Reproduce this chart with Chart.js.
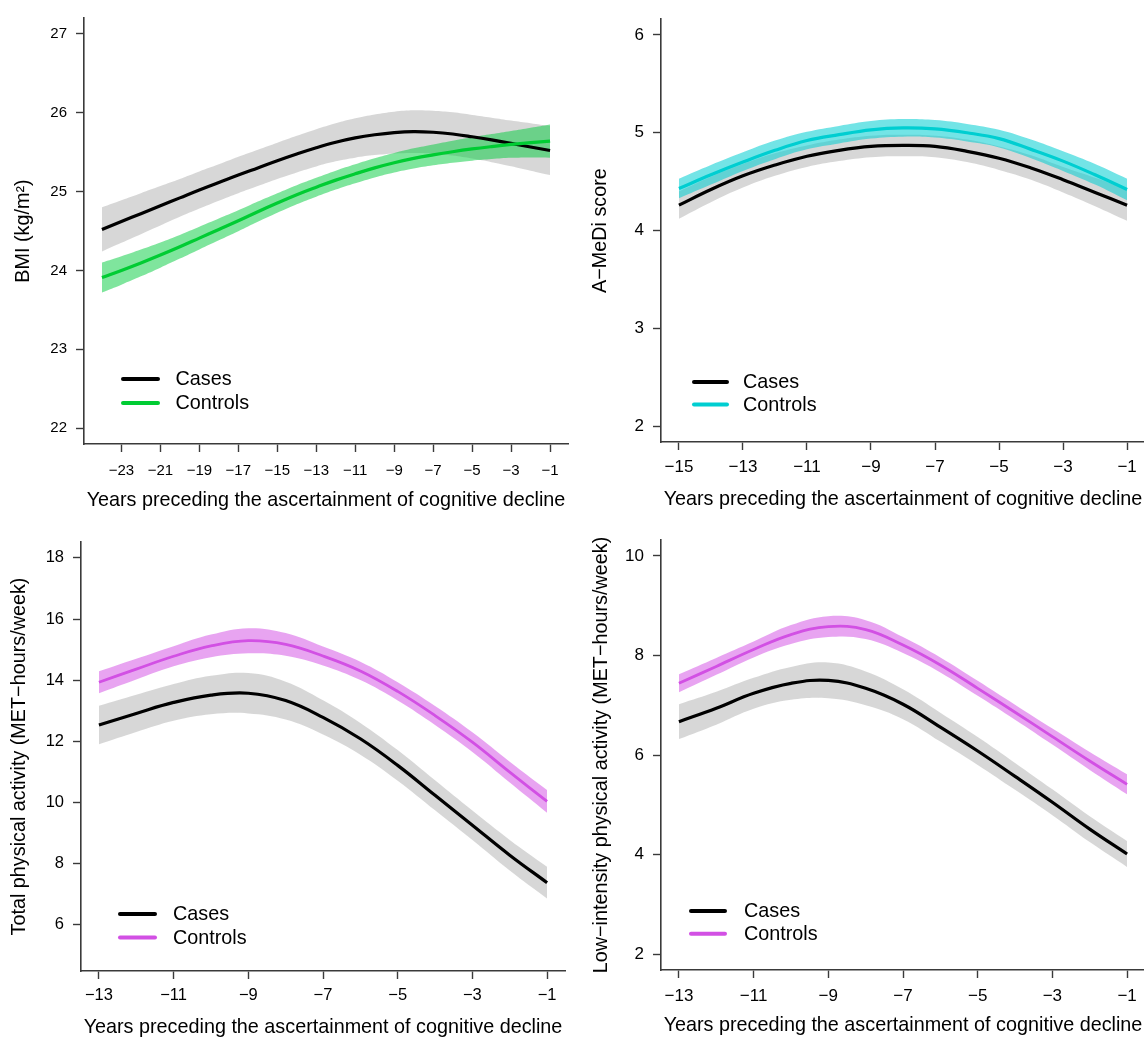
<!DOCTYPE html>
<html><head><meta charset="utf-8">
<script src="https://cdn.jsdelivr.net/npm/chart.js@4/dist/chart.umd.min.js"></script>
<style>
html,body{margin:0;padding:0;background:#fff;overflow:hidden;width:1144px;height:1039px;}
.panel{position:absolute;}
canvas{display:block;}
</style></head><body>
<div class="panel" style="left:0;top:0"><canvas id="c1" width="572" height="520"></canvas></div>
<div class="panel" style="left:572px;top:0"><canvas id="c2" width="580" height="520"></canvas></div>
<div class="panel" style="left:0;top:520px"><canvas id="c3" width="572" height="519"></canvas></div>
<div class="panel" style="left:572px;top:520px"><canvas id="c4" width="580" height="519"></canvas></div>
<script>
// ---------- DATA ----------
const legendLabels = ['Cases', 'Controls'];
const xTitle = 'Years preceding the ascertainment of cognitive decline';

// Panel 1: BMI
const bmiYears = [-24,-23,-22,-21,-20,-19,-18,-17,-16,-15,-14,-13,-12,-11,-10,-9,-8,-7,-6,-5,-4,-3,-2,-1];
const bmiCases = [24.52,24.62,24.72,24.82,24.92,25.02,25.115,25.21,25.30,25.39,25.475,25.555,25.625,25.68,25.72,25.748,25.76,25.752,25.73,25.695,25.655,25.61,25.565,25.52];
const bmiCasesUpper = [24.80,24.89,24.98,25.07,25.16,25.255,25.345,25.44,25.53,25.62,25.707,25.791,25.867,25.93,25.978,26.013,26.03,26.024,26.004,25.972,25.937,25.90,25.865,25.83];
const bmiCasesLower = [24.24,24.35,24.46,24.57,24.68,24.785,24.885,24.98,25.07,25.16,25.243,25.319,25.383,25.43,25.462,25.483,25.49,25.48,25.456,25.418,25.373,25.32,25.265,25.21];
const bmiControls = [23.91,24.00,24.095,24.195,24.30,24.41,24.52,24.63,24.745,24.855,24.96,25.055,25.145,25.225,25.30,25.365,25.42,25.465,25.505,25.54,25.57,25.597,25.62,25.64];
const bmiControlsUpper = [24.10,24.18,24.265,24.355,24.45,24.553,24.657,24.762,24.873,24.979,25.081,25.175,25.265,25.345,25.421,25.489,25.548,25.598,25.645,25.688,25.728,25.767,25.808,25.85];
const bmiControlsLower = [23.72,23.82,23.925,24.035,24.15,24.267,24.383,24.498,24.617,24.731,24.839,24.935,25.025,25.105,25.179,25.241,25.292,25.332,25.365,25.392,25.412,25.427,25.432,25.43];
const bmiXTicks = [-23,-21,-19,-17,-15,-13,-11,-9,-7,-5,-3,-1];
const bmiXTickLabels = ['\u221223','\u221221','\u221219','\u221217','\u221215','\u221213','\u221211','\u22129','\u22127','\u22125','\u22123','\u22121'];
const bmiYTicks = [22,23,24,25,26,27];
const bmiYTickLabels = ['22','23','24','25','26','27'];

// Panel 2: A-MeDi
const mediYears = [-15,-14,-13,-12,-11,-10,-9,-8,-7,-6,-5,-4,-3,-2,-1];
const mediCases = [4.26,4.42,4.56,4.67,4.76,4.82,4.86,4.87,4.86,4.81,4.74,4.64,4.52,4.39,4.26];
const mediCasesUpper = [4.40,4.55,4.68,4.79,4.87,4.93,4.97,4.98,4.97,4.93,4.86,4.77,4.65,4.54,4.42];
const mediCasesLower = [4.12,4.29,4.44,4.56,4.65,4.71,4.75,4.76,4.75,4.70,4.62,4.52,4.39,4.25,4.10];
const mediControls = [4.43,4.57,4.70,4.82,4.92,4.98,5.03,5.05,5.04,5.00,4.94,4.83,4.71,4.57,4.42];
const mediControlsUpper = [4.53,4.67,4.80,4.92,5.01,5.07,5.12,5.14,5.13,5.09,5.03,4.93,4.81,4.68,4.53];
const mediControlsLower = [4.33,4.47,4.61,4.73,4.83,4.89,4.94,4.96,4.95,4.91,4.85,4.74,4.61,4.47,4.31];
const mediXTicks = [-15,-13,-11,-9,-7,-5,-3,-1];
const mediXTickLabels = ['\u221215','\u221213','\u221211','\u22129','\u22127','\u22125','\u22123','\u22121'];
const mediYTicks = [2,3,4,5,6];
const mediYTickLabels = ['2','3','4','5','6'];

// Panel 3: Total physical activity
const tpaYears = [-13,-12,-11,-10,-9,-8,-7,-6,-5,-4,-3,-2,-1];
const tpaCases = [12.53,12.91,13.27,13.51,13.57,13.33,12.78,12.08,11.21,10.23,9.25,8.27,7.37];
const tpaCasesUpper = [13.16,13.52,13.87,14.14,14.23,13.95,13.34,12.60,11.71,10.72,9.73,8.77,7.89];
const tpaCasesLower = [11.90,12.30,12.67,12.88,12.91,12.71,12.22,11.56,10.71,9.74,8.77,7.77,6.85];
const tpaControls = [13.93,14.36,14.78,15.12,15.29,15.17,14.79,14.30,13.63,12.84,11.97,10.99,10.03];
const tpaControlsUpper = [14.29,14.70,15.11,15.49,15.70,15.54,15.10,14.60,13.93,13.15,12.29,11.33,10.40];
const tpaControlsLower = [13.57,14.02,14.45,14.75,14.88,14.80,14.48,14.00,13.33,12.53,11.65,10.65,9.66];
const paXTicks = [-13,-11,-9,-7,-5,-3,-1];
const paXTickLabels = ['\u221213','\u221211','\u22129','\u22127','\u22125','\u22123','\u22121'];
const tpaYTicks = [6,8,10,12,14,16,18];
const tpaYTickLabels = ['6','8','10','12','14','16','18'];

// Panel 4: Low-intensity physical activity
const lpaYears = [-13,-12,-11,-10,-9,-8,-7,-6,-5,-4,-3,-2,-1];
const lpaCases = [6.67,6.94,7.24,7.44,7.50,7.34,7.02,6.56,6.08,5.57,5.05,4.51,4.01];
const lpaCasesUpper = [7.02,7.27,7.55,7.77,7.86,7.68,7.32,6.85,6.36,5.84,5.31,4.77,4.27];
const lpaCasesLower = [6.32,6.61,6.93,7.11,7.14,7.00,6.72,6.27,5.80,5.30,4.79,4.25,3.75];
const lpaControls = [7.44,7.78,8.12,8.42,8.58,8.52,8.21,7.81,7.34,6.86,6.37,5.88,5.41];
const lpaControlsUpper = [7.62,7.95,8.28,8.61,8.79,8.71,8.37,7.96,7.49,7.01,6.53,6.06,5.61];
const lpaControlsLower = [7.26,7.61,7.96,8.23,8.37,8.33,8.05,7.66,7.19,6.71,6.21,5.70,5.21];
const lpaYTicks = [2,4,6,8,10];
const lpaYTickLabels = ['2','4','6','8','10'];

// ---------- RENDERING ----------
const FONT = '"Liberation Sans", Arial, Helvetica, sans-serif';
const AXIS_COLOR = '#3a3a3a';
const TITLE_SIZE = 19.8;

function xy(xs, ys) { return xs.map((x, i) => ({ x: x, y: ys[i] })); }
function rRange(lo, hi) { const p = (hi - lo) * 0.04; return [lo - p, hi + p]; }

const rLegend = {
  id: 'rlegend',
  afterDraw(chart, args, o) {
    const ctx = chart.ctx, ca = chart.chartArea;
    ctx.save();
    ctx.font = o.fontSize + 'px ' + FONT;
    ctx.textBaseline = 'middle';
    ctx.textAlign = 'left';
    o.items.forEach((it, i) => {
      const y = ca.bottom + o.dy + i * o.gap;
      ctx.strokeStyle = it.color;
      ctx.lineWidth = 4;
      ctx.lineCap = 'round';
      ctx.beginPath();
      ctx.moveTo(ca.left + o.x1 + 2, y);
      ctx.lineTo(ca.left + o.x2 - 2, y);
      ctx.stroke();
      ctx.fillStyle = '#000';
      ctx.fillText(it.label, ca.left + o.tx, y + 1);
    });
    ctx.restore();
  }
};

function makePanel(cfg) {
  const canvas = document.getElementById(cfg.id);
  const W = canvas.width, H = canvas.height;
  const a = cfg.area;
  const xr = rRange(cfg.years[0], cfg.years[cfg.years.length - 1]);
  const yr = rRange(cfg.ylim[0], cfg.ylim[1]);
  const line = { pointRadius: 0, tension: 0.4, cubicInterpolationMode: 'default', borderCapStyle: 'butt', borderJoinStyle: 'round' };
  const datasets = [
    Object.assign({ data: xy(cfg.years, cfg.casesUpper), borderWidth: 0, borderColor: 'transparent', backgroundColor: 'rgba(200,200,200,0.72)', fill: '+1', order: 4 }, line),
    Object.assign({ data: xy(cfg.years, cfg.casesLower), borderWidth: 0, borderColor: 'transparent', fill: false, order: 4 }, line),
    Object.assign({ data: xy(cfg.years, cfg.controlsUpper), borderWidth: 0, borderColor: 'transparent', backgroundColor: cfg.bandColor, fill: '+1', order: 3 }, line),
    Object.assign({ data: xy(cfg.years, cfg.controlsLower), borderWidth: 0, borderColor: 'transparent', fill: false, order: 3 }, line),
    Object.assign({ data: xy(cfg.years, cfg.cases), borderWidth: 3.2, borderColor: '#000', fill: false, order: 2 }, line),
    Object.assign({ data: xy(cfg.years, cfg.controls), borderWidth: cfg.lineWidth, borderColor: cfg.color, fill: false, order: 1 }, line)
  ];
  const grid = { display: true, drawOnChartArea: false, drawTicks: true, tickLength: 8, tickColor: AXIS_COLOR, tickWidth: 1.4 };
  const border = { display: true, color: AXIS_COLOR, width: 1.6 };
  new Chart(canvas, {
    type: 'line',
    data: { datasets: datasets },
    plugins: [rLegend],
    options: {
      responsive: false, animation: false, events: [],
      layout: { autoPadding: false, padding: { left: 0, top: a.t, right: W - a.r, bottom: 0 } },
      plugins: {
        legend: { display: false }, tooltip: { enabled: false },
        rlegend: Object.assign({ fontSize: 19.8, items: [
          { label: legendLabels[0], color: '#000' },
          { label: legendLabels[1], color: cfg.color }
        ] }, cfg.legend)
      },
      scales: {
        x: {
          type: 'linear', min: xr[0], max: xr[1],
          afterFit: s => { s.height = H - a.b; },
          afterBuildTicks: s => { s.ticks = cfg.xTicks.map(v => ({ value: v })); },
          ticks: { autoSkip: false, maxRotation: 0, minRotation: 0, padding: cfg.xPad, color: '#000',
            font: { family: FONT, size: cfg.tickSize }, callback: v => cfg.xTickLabels[cfg.xTicks.indexOf(v)] },
          grid: grid, border: border,
          title: { display: true, text: xTitle, color: '#000', font: { family: FONT, size: TITLE_SIZE }, padding: { top: 0, bottom: cfg.xTitlePad } }
        },
        y: {
          type: 'linear', min: yr[0], max: yr[1],
          afterFit: s => { s.width = a.l; },
          afterBuildTicks: s => { s.ticks = cfg.yTicks.map(v => ({ value: v })); },
          ticks: { autoSkip: false, padding: 9, color: '#000',
            font: { family: FONT, size: cfg.tickSize }, callback: v => cfg.yTickLabels[cfg.yTicks.indexOf(v)] },
          grid: grid, border: border,
          title: { display: true, text: cfg.yTitle, color: '#000', font: { family: FONT, size: TITLE_SIZE }, padding: { top: cfg.yTitlePad, bottom: 0 } }
        }
      }
    }
  });
}

makePanel({ id: 'c1', area: { l: 84, r: 568, t: 13, b: 444 }, years: bmiYears, ylim: [22, 27],
  cases: bmiCases, casesUpper: bmiCasesUpper, casesLower: bmiCasesLower,
  controls: bmiControls, controlsUpper: bmiControlsUpper, controlsLower: bmiControlsLower,
  color: 'rgb(0,204,51)', bandColor: 'rgba(0,204,60,0.5)', lineWidth: 3.2,
  xTicks: bmiXTicks, xTickLabels: bmiXTickLabels, yTicks: bmiYTicks, yTickLabels: bmiYTickLabels,
  tickSize: 15, xPad: 9.5, xTitlePad: 8, yTitle: 'BMI (kg/m\u00B2)', yTitlePad: 12,
  legend: { x1: 37, x2: 76, tx: 91.5, dy: -65, gap: 24 } });

makePanel({ id: 'c2', area: { l: 89, r: 573, t: 11, b: 442 }, years: mediYears, ylim: [2, 6],
  cases: mediCases, casesUpper: mediCasesUpper, casesLower: mediCasesLower,
  controls: mediControls, controlsUpper: mediControlsUpper, controlsLower: mediControlsLower,
  color: 'rgb(0,206,209)', bandColor: 'rgba(0,206,209,0.55)', lineWidth: 3.2,
  xTicks: mediXTicks, xTickLabels: mediXTickLabels, yTicks: mediYTicks, yTickLabels: mediYTickLabels,
  tickSize: 17, xPad: 7, xTitlePad: 9, yTitle: 'A\u2212MeDi score', yTitlePad: 17,
  legend: { x1: 31, x2: 68, tx: 82, dy: -60, gap: 22.5 } });

makePanel({ id: 'c3', area: { l: 81, r: 565, t: 22, b: 451 }, years: tpaYears, ylim: [5, 18],
  cases: tpaCases, casesUpper: tpaCasesUpper, casesLower: tpaCasesLower,
  controls: tpaControls, controlsUpper: tpaControlsUpper, controlsLower: tpaControlsLower,
  color: 'rgb(210,80,228)', bandColor: 'rgba(210,80,228,0.52)', lineWidth: 2.8,
  xTicks: paXTicks, xTickLabels: paXTickLabels, yTicks: tpaYTicks, yTickLabels: tpaYTickLabels,
  tickSize: 16.5, xPad: 7, xTitlePad: 0, yTitle: 'Total physical activity (MET\u2212hours/week)', yTitlePad: 8,
  legend: { x1: 37, x2: 76, tx: 92, dy: -57, gap: 23.5 } });

makePanel({ id: 'c4', area: { l: 89, r: 573, t: 20, b: 450 }, years: lpaYears, ylim: [2, 10],
  cases: lpaCases, casesUpper: lpaCasesUpper, casesLower: lpaCasesLower,
  controls: lpaControls, controlsUpper: lpaControlsUpper, controlsLower: lpaControlsLower,
  color: 'rgb(210,80,228)', bandColor: 'rgba(210,80,228,0.52)', lineWidth: 2.8,
  xTicks: paXTicks, xTickLabels: paXTickLabels, yTicks: lpaYTicks, yTickLabels: lpaYTickLabels,
  tickSize: 17, xPad: 8, xTitlePad: 2, yTitle: 'Low\u2212intensity physical activity (MET\u2212hours/week)', yTitlePad: 18,
  legend: { x1: 28, x2: 66, tx: 83, dy: -59, gap: 22.7 } });
</script>
</body></html>
